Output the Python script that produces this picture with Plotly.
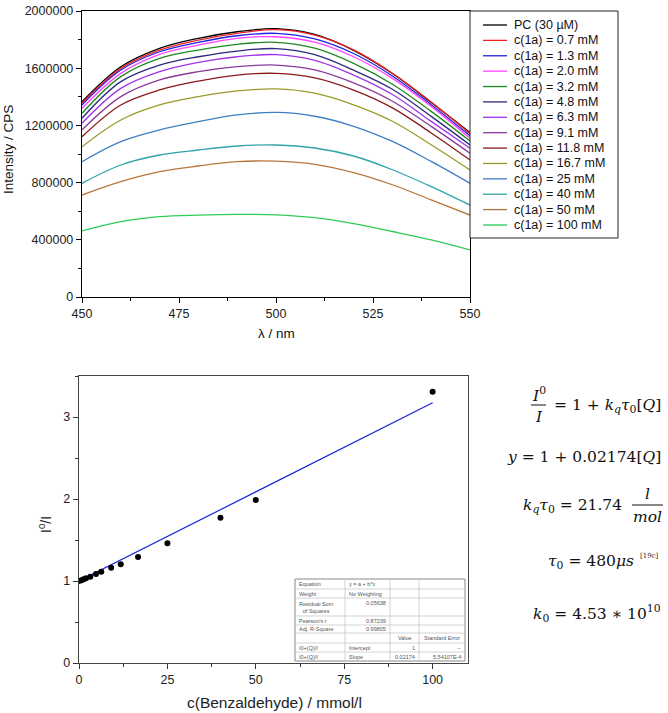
import plotly.graph_objects as go

W, H = 668, 713

# ---------------- data: emission spectra ----------------
wavelength_nm = [450, 460, 470, 480, 490, 500, 510, 520, 530, 540, 550]

series_labels = ["PC (30 µM)", "c(1a) = 0.7 mM", "c(1a) = 1.3 mM", "c(1a) = 2.0 mM",
                 "c(1a) = 3.2 mM", "c(1a) = 4.8 mM", "c(1a) = 6.3 mM", "c(1a) = 9.1 mM",
                 "c(1a) = 11.8 mM", "c(1a) = 16.7 mM", "c(1a) = 25 mM", "c(1a) = 40 mM",
                 "c(1a) = 50 mM", "c(1a) = 100 mM"]
series_colors = ["#000000", "#EE2222", "#2222DD", "#FF44FF", "#1E8A1E", "#2A2A80",
                 "#A033E8", "#8B3A9A", "#8B1A1A", "#9A9A2A", "#3F7FC4", "#2FA3A8",
                 "#B8763A", "#2ECC55"]

int_pc    = [1366000, 1610000, 1739000, 1809000, 1855000, 1877000, 1836000, 1725000, 1563000, 1360000, 1150000]
int_0p7   = [1355000, 1599000, 1727000, 1797000, 1844000, 1870000, 1832000, 1728000, 1565000, 1364000, 1142000]
int_1p3   = [1343000, 1587000, 1715000, 1781000, 1827000, 1844000, 1805000, 1703000, 1546000, 1345000, 1128000]
int_2p0   = [1320000, 1564000, 1697000, 1762000, 1809000, 1820000, 1782000, 1680000, 1529000, 1333000, 1110000]
int_3p2   = [1285000, 1541000, 1669000, 1727000, 1767000, 1781000, 1740000, 1634000, 1488000, 1298000, 1091000]
int_4p8   = [1250000, 1506000, 1622000, 1680000, 1720000, 1737000, 1695000, 1586000, 1453000, 1263000, 1063000]
int_6p3   = [1215000, 1459000, 1576000, 1641000, 1680000, 1695000, 1655000, 1552000, 1416000, 1228000, 1040000]
int_9p1   = [1168000, 1401000, 1518000, 1576000, 1611000, 1622000, 1588000, 1497000, 1369000, 1193000, 1005000]
int_11p8  = [1121000, 1343000, 1448000, 1510000, 1552000, 1564000, 1532000, 1447000, 1323000, 1147000, 958000]
int_16p7  = [1051000, 1238000, 1343000, 1401000, 1441000, 1455000, 1425000, 1344000, 1229000, 1065000, 888000]
int_25    = [946000, 1086000, 1168000, 1226000, 1273000, 1291000, 1264000, 1194000, 1088000, 948000, 795000]
int_40    = [795000, 923000, 993000, 1028000, 1056000, 1063000, 1042000, 986000, 890000, 772000, 643000]
int_50    = [713000, 806000, 876000, 916000, 946000, 950000, 928000, 870000, 785000, 679000, 573000]
int_100   = [462000, 527000, 562000, 573000, 578000, 575000, 555000, 513000, 458000, 399000, 329000]

spectra = [int_pc, int_0p7, int_1p3, int_2p0, int_3p2, int_4p8, int_6p3, int_9p1,
           int_11p8, int_16p7, int_25, int_40, int_50, int_100]

x_ticks_top = [450, 475, 500, 525, 550]

# ---------------- data: Stern-Volmer ----------------
quencher_conc = [0, 0.7, 1.3, 2.0, 3.2, 4.8, 6.3, 9.1, 11.8, 16.7, 25, 40, 50, 100]
i0_over_i = [1.0, 1.01, 1.02, 1.035, 1.053, 1.085, 1.113, 1.162, 1.203, 1.293, 1.459, 1.772, 1.988, 3.309]
fit_intercept = 1.0
fit_slope = 0.02174
fit_x = [0, 100]
x_ticks_bottom = [0, 25, 50, 75, 100]

table_rows = [
    ["Equation", "y = a + b*x", "", ""],
    ["Weight", "No Weighting", "", ""],
    ["Residual Sum<br>of Squares", "0.05638", "", ""],
    ["Pearson's r", "0.87239", "", ""],
    ["Adj. R-Square", "0.99805", "", ""],
    ["", "", "Value", "Standard Error"],
    ["I0+(Q)/I", "Intercept", "1", "--"],
    ["I0+(Q)/I", "Slope", "0.02174", "5.54107E-4"],
]
table_align = [
    ["l", "l", "l", "l"],
    ["l", "l", "l", "l"],
    ["l", "r", "l", "l"],
    ["l", "r", "l", "l"],
    ["l", "r", "l", "l"],
    ["l", "l", "c", "c"],
    ["l", "l", "r", "r"],
    ["l", "l", "r", "r"],
]


def px(x):
    return x / W


def py(y):
    return 1 - y / H


fig = go.Figure()

# spectra
for vals, name, col in zip(spectra, series_labels, series_colors):
    fig.add_trace(go.Scatter(x=wavelength_nm, y=vals, mode="lines", name=name,
                             line=dict(color=col, width=1.3, shape="spline", smoothing=1.0),
                             xaxis="x", yaxis="y", showlegend=False))

# fit line
fit_y = [fit_intercept + fit_slope * v for v in fit_x]
fig.add_trace(go.Scatter(x=fit_x, y=fit_y, mode="lines", line=dict(color="#2020E0", width=1.2),
                         xaxis="x2", yaxis="y2", showlegend=False))
fig.add_trace(go.Scatter(x=quencher_conc, y=i0_over_i, mode="markers",
                         marker=dict(color="black", size=6),
                         xaxis="x2", yaxis="y2", showlegend=False))

tick_font = dict(family="Liberation Sans, Arial, sans-serif", size=12.5, color="#222")

fig.update_layout(
    width=W, height=H,
    margin=dict(l=0, r=0, t=0, b=0, pad=0, autoexpand=False),
    paper_bgcolor="white", plot_bgcolor="white",
    showlegend=False,
    xaxis=dict(domain=[px(82), px(470)], anchor="y", range=[450, 550], tickvals=x_ticks_top,
               ticks="outside", ticklen=5, tickwidth=1, tickcolor="black", automargin=False,
               showline=True, linecolor="black", linewidth=1.2, mirror=True,
               showgrid=False, zeroline=False, tickfont=tick_font,
               minor=dict(ticks="outside", ticklen=3, tickcolor="black", dtick=12.5, tick0=450, showgrid=False)),
    yaxis=dict(domain=[py(297), py(11)], anchor="x", range=[0, 2000000], dtick=400000, tickformat="d",
               ticks="outside", ticklen=5, tickwidth=1, tickcolor="black", automargin=False,
               showline=True, linecolor="black", linewidth=1.2, mirror=True,
               showgrid=False, zeroline=False, tickfont=tick_font,
               minor=dict(ticks="outside", ticklen=3, tickcolor="black", dtick=200000, tick0=0, showgrid=False)),
    xaxis2=dict(domain=[px(79), px(468)], anchor="y2", range=[0, 110], tickvals=x_ticks_bottom,
                ticks="outside", ticklen=5, tickwidth=1, tickcolor="#333", automargin=False,
                showline=True, linecolor="#444", linewidth=1.2, mirror=True,
                showgrid=False, zeroline=False, tickfont=tick_font,
                minor=dict(ticks="outside", ticklen=3, tickcolor="#333", dtick=12.5, tick0=0, showgrid=False)),
    yaxis2=dict(domain=[py(663), py(376)], anchor="x2", range=[0, 3.5], dtick=1,
                ticks="outside", ticklen=5, tickwidth=1, tickcolor="#333", automargin=False,
                showline=True, linecolor="#444", linewidth=1.2, mirror=True,
                showgrid=False, zeroline=False, tickfont=tick_font,
                minor=dict(ticks="outside", ticklen=3, tickcolor="#333", dtick=0.5, tick0=0, showgrid=False)),
)

shapes = []
annotations = []


def ann(text, x, y, font, xanchor="center", yanchor="middle", angle=0):
    annotations.append(dict(text=text, x=px(x), y=py(y), xref="paper", yref="paper",
                            xanchor=xanchor, yanchor=yanchor, textangle=angle,
                            showarrow=False, font=font))


# axis titles
sans = "Liberation Sans, Arial, sans-serif"
ann("Intensity / CPS", 9, 150, dict(family=sans, size=13.5, color="#111"), angle=-90)
ann("λ / nm", 276, 333, dict(family=sans, size=13.5, color="#111"))
ann("I<sup>0</sup>/I", 45, 525, dict(family=sans, size=14, color="#222"), angle=-90)
ann("c(Benzaldehyde) / mmol/l", 274, 702, dict(family=sans, size=15.5, color="#222"))

# custom legend
leg_l, leg_t, leg_r, leg_b = 470, 11, 618, 238
shapes.append(dict(type="rect", xref="paper", yref="paper", x0=px(leg_l), x1=px(leg_r),
                   y0=py(leg_b), y1=py(leg_t), line=dict(color="#222", width=1), fillcolor="white",
                   layer="above"))
step = (225 - 25) / (len(series_labels) - 1)
for i, (name, col) in enumerate(zip(series_labels, series_colors)):
    yc = 25 + i * step
    shapes.append(dict(type="line", xref="paper", yref="paper", x0=px(483), x1=px(507),
                       y0=py(yc), y1=py(yc), line=dict(color=col, width=1.3), layer="above"))
    ann(name, 512, yc, dict(family=sans, size=12.5, color="#111"), xanchor="left")

# fit results table
col_x = [295, 345, 390, 419, 465]
row_y = [579, 589, 598, 616, 625, 633, 643, 652, 661]
shapes.append(dict(type="rect", xref="paper", yref="paper", x0=px(col_x[0]), x1=px(col_x[-1]),
                   y0=py(row_y[-1]), y1=py(row_y[0]), line=dict(color="#888", width=1),
                   fillcolor="white", layer="above"))
for yy in row_y[1:-1]:
    shapes.append(dict(type="line", xref="paper", yref="paper", x0=px(col_x[0]), x1=px(col_x[-1]),
                       y0=py(yy), y1=py(yy), line=dict(color="#c8c8c8", width=0.8), layer="above"))
for xx in col_x[1:-1]:
    shapes.append(dict(type="line", xref="paper", yref="paper", x0=px(xx), x1=px(xx),
                       y0=py(row_y[-1]), y1=py(row_y[0]), line=dict(color="#c8c8c8", width=0.8),
                       layer="above"))
for r, (row, aligns) in enumerate(zip(table_rows, table_align)):
    for c, (txt, al) in enumerate(zip(row, aligns)):
        if not txt:
            continue
        x0, x1 = col_x[c], col_x[c + 1]
        if r == 2 and c == 1:
            yc = row_y[r] + 4.5
        else:
            yc = (row_y[r] + row_y[r + 1]) / 2
        if al == "l":
            xa, xan = x0 + 2, "left"
        elif al == "r":
            xa, xan = x1 - 2, "right"
        else:
            xa, xan = (x0 + x1) / 2, "center"
        ann(txt, xa, yc, dict(family=sans, size=5.5, color="#555"), xanchor=xan)

# equations
serif = "DejaVu Serif, Liberation Serif, serif"
ef = dict(family=serif, size=15.5, color="#111")
# eq 1: fraction I0 / I
ann("<i>I</i><sup>0</sup>", 539, 394, ef)
shapes.append(dict(type="line", xref="paper", yref="paper", x0=px(531), x1=px(546),
                   y0=py(405), y1=py(405), line=dict(color="#111", width=1)))
ann("<i>I</i>", 539, 417, ef)
ann("= 1 + <i>k</i><sub><i>q</i></sub><i>τ</i><sub>0</sub>[<i>Q</i>]", 663, 406, ef, xanchor="right")
# eq 2
ann("<i>y</i> = 1 + 0.02174[<i>Q</i>]", 663, 457, ef, xanchor="right")
# eq 3
ann("<i>k</i><sub><i>q</i></sub><i>τ</i><sub>0</sub> = 21.74", 624, 506, ef, xanchor="right")
ann("<i>l</i>", 647, 494, ef)
shapes.append(dict(type="line", xref="paper", yref="paper", x0=px(632), x1=px(663),
                   y0=py(505), y1=py(505), line=dict(color="#111", width=1)))
ann("<i>mol</i>", 647, 517, ef)
# eq 4
ann("<i>τ</i><sub>0</sub> = 480<i>μs</i>", 636, 562, ef, xanchor="right")
ann("[19c]", 638, 556, dict(family=serif, size=7, color="#222"), xanchor="left")
# eq 5
ann("<i>k</i><sub>0</sub> = 4.53 ∗ 10<sup>10</sup>", 663, 613, ef, xanchor="right")

fig.update_layout(shapes=shapes, annotations=annotations)
fig.write_html("out.html", config={"displayModeBar": False, "staticPlot": True},
               post_script="document.body.style.margin='0px';document.body.style.padding='0px';")
